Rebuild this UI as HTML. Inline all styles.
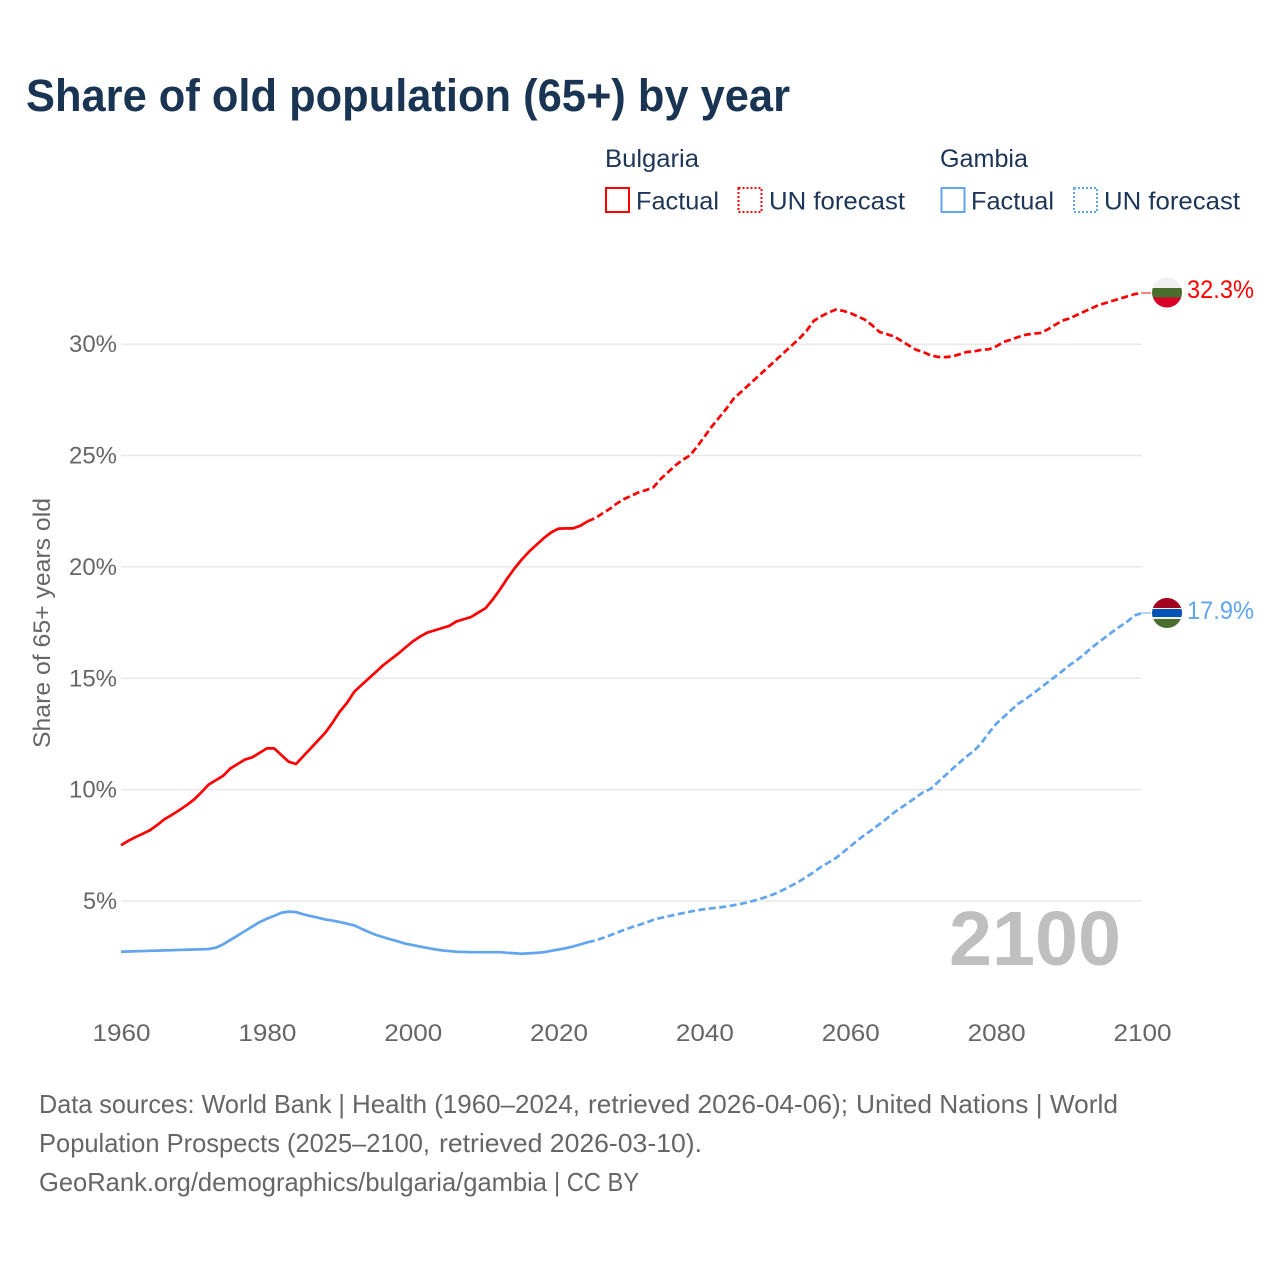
<!DOCTYPE html>
<html lang="en">
<head>
<meta charset="utf-8">
<title>Share of old population (65+) by year</title>
<style>
html,body{margin:0;padding:0;background:#fff;width:1280px;height:1280px;overflow:hidden}
svg{display:block}
text{font-family:"Liberation Sans",sans-serif}
</style>
</head>
<body>
<svg id="chart" width="1280" height="1280" viewBox="0 0 1280 1280" xmlns="http://www.w3.org/2000/svg">
  <defs>
    <clipPath id="clip-bg"><circle cx="1167" cy="292.5" r="15"/></clipPath>
    <clipPath id="clip-gm"><circle cx="1167" cy="613" r="15"/></clipPath>
  </defs>
  <rect width="1280" height="1280" fill="#fff"/>
  <text x="26" y="111" font-size="45" font-weight="700" fill="#1a3553" textLength="764" lengthAdjust="spacingAndGlyphs">Share of old population (65+) by year</text>

  <g font-size="25" fill="#1d3557">
    <text x="605" y="167" textLength="94" lengthAdjust="spacingAndGlyphs">Bulgaria</text>
    <rect x="606" y="188" width="23" height="24" fill="none" stroke="#ff0000" stroke-width="2"/>
    <text x="636" y="209.5" textLength="83" lengthAdjust="spacingAndGlyphs">Factual</text>
    <rect x="738.5" y="188" width="23" height="24" fill="none" stroke="#ff0000" stroke-width="2" stroke-dasharray="2 2"/>
    <text x="769" y="209.5" textLength="136" lengthAdjust="spacingAndGlyphs">UN forecast</text>
    <text x="940" y="167" textLength="88" lengthAdjust="spacingAndGlyphs">Gambia</text>
    <rect x="941.5" y="188" width="23" height="24" fill="none" stroke="#60a5ee" stroke-width="2"/>
    <text x="971" y="209.5" textLength="83" lengthAdjust="spacingAndGlyphs">Factual</text>
    <rect x="1074" y="188" width="23" height="24" fill="none" stroke="#60a5ee" stroke-width="2" stroke-dasharray="2 2"/>
    <text x="1104" y="209.5" textLength="136" lengthAdjust="spacingAndGlyphs">UN forecast</text>
  </g>

  <g id="grid"></g>
  <g id="yticks"></g>
  <g id="xticks"></g>

  <text transform="translate(50,623) rotate(-90)" text-anchor="middle" font-size="24" fill="#666666" textLength="250" lengthAdjust="spacingAndGlyphs">Share of 65+ years old</text>

  <text x="949" y="965" font-size="77" font-weight="700" fill="#bfbfbf" textLength="172" lengthAdjust="spacingAndGlyphs">2100</text>

  <g id="series"></g>

  <g clip-path="url(#clip-bg)">
    <rect x="1150" y="276" width="34" height="12" fill="#f0f0f0"/>
    <rect x="1150" y="288" width="34" height="9.5" fill="#496e2d"/>
    <rect x="1150" y="297.5" width="34" height="12" fill="#d80027"/>
  </g>
  <g clip-path="url(#clip-gm)">
    <rect x="1150" y="597" width="34" height="32" fill="#f0f0f0"/>
    <rect x="1150" y="597" width="34" height="11" fill="#a2001d"/>
    <rect x="1150" y="609" width="34" height="8" fill="#0052b4"/>
    <rect x="1150" y="619" width="34" height="10" fill="#496e2d"/>
  </g>
  <text id="label-bg" x="1187" y="298" font-size="25" fill="#ff0000" textLength="67" lengthAdjust="spacingAndGlyphs"></text>
  <text id="label-gm" x="1187" y="619" font-size="25" fill="#60a5ee" textLength="67" lengthAdjust="spacingAndGlyphs"></text>

  <g font-size="26" fill="#666666">
    <text x="39" y="1113" textLength="306" lengthAdjust="spacingAndGlyphs">Data sources: World Bank |</text>
    <text x="352" y="1113" textLength="228" lengthAdjust="spacingAndGlyphs">Health (1960–2024,</text>
    <text x="588" y="1113" textLength="260" lengthAdjust="spacingAndGlyphs">retrieved 2026-04-06);</text>
    <text x="856" y="1113" textLength="262" lengthAdjust="spacingAndGlyphs">United Nations | World</text>
    <text x="39" y="1152" textLength="241" lengthAdjust="spacingAndGlyphs">Population Prospects</text>
    <text x="287" y="1152" textLength="143" lengthAdjust="spacingAndGlyphs">(2025–2100,</text>
    <text x="439" y="1152" textLength="263" lengthAdjust="spacingAndGlyphs">retrieved 2026-03-10).</text>
    <text x="39" y="1191" textLength="508" lengthAdjust="spacingAndGlyphs">GeoRank.org/demographics/bulgaria/gambia</text>
    <text x="554" y="1191" textLength="85" lengthAdjust="spacingAndGlyphs">| CC BY</text>
  </g>
</svg>
<script>
const startYear = 1960;
const lastFactualYear = 2024;
const xTickYears = [1960, 1980, 2000, 2020, 2040, 2060, 2080, 2100];
const yTickValues = [5, 10, 15, 20, 25, 30];
const bulgariaValues = [
  7.5,7.7,7.87,8.02,8.18,8.42,8.68,8.87,9.08,9.3,9.55,9.87,10.22,10.42,10.62,10.95,11.15,11.35,11.45,11.65,
  11.85,11.85,11.55,11.25,11.15,11.5,11.85,12.2,12.55,13.0,13.5,13.9,14.4,14.7,15.0,15.3,15.6,15.85,16.1,16.38,
  16.65,16.87,17.05,17.15,17.25,17.35,17.55,17.65,17.75,17.95,18.15,18.55,19.0,19.5,19.95,20.35,20.7,21.0,21.3,21.55,21.72,
  21.73,21.73,21.85,22.05,22.18,
  22.4,22.6,22.85,23.05,23.2,23.35,23.45,23.57,23.95,24.25,24.55,24.8,25.0,25.4,25.85,26.3,26.7,27.1,27.55,27.85,
  28.15,28.45,28.75,29.05,29.35,29.65,29.95,30.25,30.6,31.05,31.25,31.42,31.55,31.5,31.4,31.25,31.1,30.85,30.55,30.45,
  30.35,30.15,29.95,29.75,29.65,29.5,29.43,29.42,29.45,29.55,29.65,29.68,29.75,29.77,29.9,30.1,30.2,30.32,30.42,30.47,
  30.5,30.65,30.85,31.05,31.15,31.3,31.45,31.6,31.75,31.85,31.95,32.05,32.15,32.25,32.3
];
const gambiaValues = [
  2.72,2.73,2.74,2.75,2.76,2.77,2.78,2.79,2.8,2.81,2.82,2.83,2.84,2.9,3.05,3.25,3.45,3.65,3.85,4.05,
  4.2,4.33,4.47,4.52,4.5,4.4,4.32,4.25,4.17,4.12,4.05,3.98,3.9,3.75,3.6,3.47,3.37,3.27,3.18,3.08,
  3.02,2.95,2.89,2.83,2.78,2.75,2.72,2.71,2.7,2.7,2.7,2.7,2.7,2.67,2.65,2.63,2.65,2.67,2.7,2.76,
  2.82,2.88,2.96,3.05,3.15,
  3.22,3.33,3.45,3.58,3.7,3.82,3.92,4.03,4.15,4.24,4.31,4.38,4.45,4.52,4.58,4.63,4.67,4.71,4.75,4.81,
  4.87,4.94,5.03,5.13,5.24,5.37,5.53,5.7,5.88,6.08,6.3,6.53,6.72,6.92,7.18,7.45,7.72,7.97,8.2,8.45,
  8.7,8.97,9.2,9.42,9.65,9.88,10.03,10.33,10.63,10.93,11.22,11.5,11.75,12.1,12.55,12.95,13.25,13.55,13.85,14.05,
  14.3,14.55,14.8,15.05,15.3,15.57,15.8,16.05,16.35,16.6,16.85,17.1,17.33,17.55,17.82,17.93
];

const SVG_NS = 'http://www.w3.org/2000/svg';
const xOf = year => 121 + (year - 1960) * (1142 - 121) / 140;
const yOf = value => 1012.3 - value * 22.27;

function make(tag, parent) {
  const el = document.createElementNS(SVG_NS, tag);
  parent.appendChild(el);
  return el;
}

const gridGroup = document.getElementById('grid');
const yTickGroup = document.getElementById('yticks');
const xTickGroup = document.getElementById('xticks');
const seriesGroup = document.getElementById('series');

yTickValues.forEach(v => {
  const line = make('line', gridGroup);
  
  
  line.setAttribute('x1', 121);
  line.setAttribute('x2', 1142);
  line.setAttribute('y1', yOf(v));
  line.setAttribute('y2', yOf(v));
  line.setAttribute('stroke', '#e9e9e9');
  line.setAttribute('stroke-width', 1.5);

  const label = make('text', yTickGroup);
  
  
  label.setAttribute('x', 117);
  label.setAttribute('y', yOf(v) + 8);
  label.setAttribute('text-anchor', 'end');
  label.setAttribute('font-size', 24);
  label.setAttribute('fill', '#666666');
  label.setAttribute('textLength', v < 10 ? 34 : 48);
  label.setAttribute('lengthAdjust', 'spacingAndGlyphs');
  label.textContent = v + '%';
});

xTickYears.forEach(y => {
  const label = make('text', xTickGroup);
  
  
  label.setAttribute('x', xOf(y) + 0.5);
  label.setAttribute('y', 1041);
  label.setAttribute('text-anchor', 'middle');
  label.setAttribute('font-size', 24);
  label.setAttribute('fill', '#666666');
  label.setAttribute('textLength', 58);
  label.setAttribute('lengthAdjust', 'spacingAndGlyphs');
  label.textContent = y;
});

function pathFor(values, fromYear, toYear) {
  let d = '';
  for (let y = fromYear; y <= toYear; y++) {
    d += (d ? 'L' : 'M') + xOf(y).toFixed(2) + ' ' + yOf(values[y - startYear]).toFixed(2);
  }
  return d;
}

function drawSeries(values, color) {
  const endYear = startYear + values.length - 1;
  const endValue = values[values.length - 1];

  const factual = make('path', seriesGroup);
  
  
  factual.setAttribute('d', pathFor(values, startYear, lastFactualYear));
  factual.setAttribute('fill', 'none');
  factual.setAttribute('stroke', color);
  factual.setAttribute('stroke-width', 2.7);
  factual.setAttribute('stroke-linejoin', 'round');

  const forecast = make('path', seriesGroup);
  
  
  forecast.setAttribute('d', pathFor(values, lastFactualYear, endYear));
  forecast.setAttribute('fill', 'none');
  forecast.setAttribute('stroke', color);
  forecast.setAttribute('stroke-width', 2.7);
  forecast.setAttribute('stroke-dasharray', '7 3.5');

  const connector = make('line', seriesGroup);
  
  
  connector.setAttribute('x1', xOf(endYear));
  connector.setAttribute('x2', xOf(endYear) + 9);
  connector.setAttribute('y1', yOf(endValue));
  connector.setAttribute('y2', yOf(endValue));
  connector.setAttribute('stroke', color);
  connector.setAttribute('stroke-width', 1.2);
  connector.setAttribute('opacity', 0.8);
}

drawSeries(bulgariaValues, '#ff0000');
drawSeries(gambiaValues, '#60a5ee');

document.getElementById('label-bg').textContent = bulgariaValues[bulgariaValues.length - 1].toFixed(1) + '%';
document.getElementById('label-gm').textContent = gambiaValues[gambiaValues.length - 1].toFixed(1) + '%';
</script>
</body>
</html>
